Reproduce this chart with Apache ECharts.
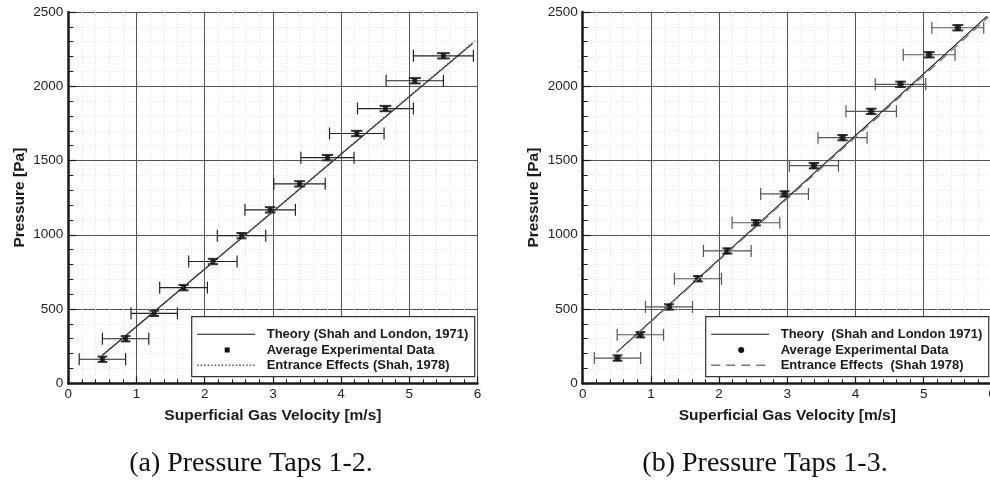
<!DOCTYPE html>
<html>
<head>
<meta charset="utf-8">
<script src="https://cdn.jsdelivr.net/npm/echarts@6/dist/echarts.min.js"></script>
<style>
  html, body { margin: 0; padding: 0; background: #fff; }
  #chart { width: 990px; height: 483px; }
</style>
</head>
<body>
<div id="chart"></div>
<script>
// ---- Panel (a): pressure taps 1-2 ----
const velocityA = [0.50, 0.84, 1.26, 1.69, 2.12, 2.54, 2.96, 3.39, 3.80, 4.23, 4.65, 5.08, 5.50];
const pressureA = [162, 300, 471, 644, 820, 994, 1168, 1343, 1519, 1682, 1850, 2037, 2205];
const velocityErrA = [0.34, 0.34, 0.34, 0.35, 0.355, 0.355, 0.37, 0.377, 0.39, 0.40, 0.41, 0.42, 0.44];
const pressureErrA = [18, 18, 18, 18, 18, 18, 18, 18, 18, 18, 18, 18, 18];
const theoryA = [[0.50, 189], [5.93, 2289]];
const entranceA = [[0.50, 189], [5.96, 2305]];

// ---- Panel (b): pressure taps 1-3 ----
const velocityB = [0.51, 0.845, 1.265, 1.69, 2.12, 2.54, 2.96, 3.39, 3.81, 4.23, 4.66, 5.08, 5.50];
const pressureB = [170, 327, 514, 704, 891, 1081, 1275, 1465, 1654, 1831, 2013, 2212, 2394];
const velocityErrB = [0.34, 0.34, 0.345, 0.345, 0.35, 0.35, 0.35, 0.36, 0.36, 0.37, 0.37, 0.38, 0.38];
const pressureErrB = [18, 18, 18, 18, 18, 18, 18, 18, 18, 18, 18, 18, 18];
const theoryB = [[0.50, 210], [5.93, 2472]];
const entranceB = [[0.50, 207], [5.95, 2466]];

// ---- Text ----
const xTitle = 'Superficial Gas Velocity [m/s]';
const yTitle = 'Pressure [Pa]';
const legendA = ['Theory (Shah and London, 1971)', 'Average Experimental Data', 'Entrance Effects (Shah, 1978)'];
const legendB = ['Theory  (Shah and London 1971)', 'Average Experimental Data', 'Entrance Effects  (Shah 1978)'];
const captions = ['(a) Pressure Taps 1-2.', '(b) Pressure Taps 1-3.'];

const SANS = 'Liberation Sans, Arial, Helvetica, sans-serif';
const SERIF = 'Liberation Serif, DejaVu Serif, serif';

function pack(xs, ys, ex, ey) {
  return xs.map((x, i) => [x, ys[i], ex[i], ey[i]]);
}

const plainNumber = v => String(v);

function xAxisFor(gridIndex) {
  return {
    type: 'value', gridIndex, min: 0, max: 6, interval: 1,
    name: xTitle, nameLocation: 'middle', nameGap: 24,
    nameTextStyle: { fontFamily: SANS, fontWeight: 'bold', fontSize: 15.5, color: '#1a1a1a' },
    axisLine: { show: true, onZero: false, lineStyle: { color: '#1a1a1a', width: 2.5 } },
    axisTick: { show: true, inside: true, length: 7, lineStyle: { color: '#1a1a1a', width: 1.2 } },
    minorTick: { show: true, splitNumber: 5, length: 4, lineStyle: { color: '#1a1a1a', width: 1 } },
    axisLabel: { margin: 4, fontFamily: SANS, fontSize: 13.5, color: '#222', formatter: plainNumber },
    splitLine: { show: true, lineStyle: { color: '#555', width: 1 } },
    minorSplitLine: { show: true, lineStyle: { color: '#e4e4e4', type: [1, 2], width: 1 } }
  };
}

function yAxisFor(gridIndex) {
  return {
    type: 'value', gridIndex, min: 0, max: 2500, interval: 500,
    name: yTitle, nameLocation: 'middle', nameGap: 41,
    nameTextStyle: { fontFamily: SANS, fontWeight: 'bold', fontSize: 15.5, color: '#1a1a1a' },
    axisLine: { show: true, onZero: false, lineStyle: { color: '#1a1a1a', width: 2.5 } },
    axisTick: { show: true, inside: true, length: 8, lineStyle: { color: '#1a1a1a', width: 1.2 } },
    minorTick: { show: true, splitNumber: 5, length: 5, lineStyle: { color: '#1a1a1a', width: 1 } },
    axisLabel: { margin: 5, fontFamily: SANS, fontSize: 13.5, color: '#222', formatter: plainNumber },
    splitLine: { show: true, lineStyle: { color: '#555', width: 1 } },
    minorSplitLine: { show: true, lineStyle: { color: '#e4e4e4', type: [1, 2], width: 1 } }
  };
}

// Horizontal and vertical error bars with end caps, placed through the axis scales.
function errorBars(barColor, capColor) {
  return function (params, api) {
    const x = api.value(0), y = api.value(1), ex = api.value(2), ey = api.value(3);
    const c = api.coord([x, y]);
    const l = api.coord([x - ex, y]);
    const r = api.coord([x + ex, y]);
    const t = api.coord([x, y + ey]);
    const b = api.coord([x, y - ey]);
    const capH = 6;
    const capW = (r[0] - l[0]) / 2 * 0.21;
    const s1 = { stroke: barColor, lineWidth: 1.2 };
    const s2 = { stroke: capColor, lineWidth: 2 };
    return {
      type: 'group',
      children: [
        { type: 'line', shape: { x1: l[0], y1: c[1], x2: r[0], y2: c[1] }, style: s1 },
        { type: 'line', shape: { x1: l[0], y1: c[1] - capH, x2: l[0], y2: c[1] + capH }, style: s1 },
        { type: 'line', shape: { x1: r[0], y1: c[1] - capH, x2: r[0], y2: c[1] + capH }, style: s1 },
        { type: 'line', shape: { x1: c[0], y1: t[1], x2: c[0], y2: b[1] }, style: s2 },
        { type: 'line', shape: { x1: c[0] - capW, y1: t[1], x2: c[0] + capW, y2: t[1] }, style: s2 },
        { type: 'line', shape: { x1: c[0] - capW, y1: b[1], x2: c[0] + capW, y2: b[1] }, style: s2 }
      ]
    };
  };
}

function panelSeries(idx, xs, ys, ex, ey, theory, entrance, symbol, symbolSize, barColor, entranceStyle) {
  return [
    {
      type: 'custom', xAxisIndex: idx, yAxisIndex: idx, silent: true, z: 2,
      renderItem: errorBars(barColor, '#333'),
      data: pack(xs, ys, ex, ey)
    },
    {
      type: 'scatter', xAxisIndex: idx, yAxisIndex: idx, z: 3,
      symbol, symbolSize, itemStyle: { color: '#111' },
      data: xs.map((x, i) => [x, ys[i]])
    },
    {
      type: 'line', xAxisIndex: idx, yAxisIndex: idx, z: 4, showSymbol: false, symbol: 'none',
      lineStyle: { color: '#111', width: 1.1 }, data: theory
    },
    {
      type: 'line', xAxisIndex: idx, yAxisIndex: idx, z: 4, showSymbol: false, symbol: 'none',
      lineStyle: entranceStyle, data: entrance
    }
  ];
}

// Legend panel drawn as a boxed key inside each plot.
function legendBox(left, top, labels, markerShape, entranceStyle) {
  const w = 283, h = 60;
  const rows = [top + 17.6, top + 33.3, top + 48.6];
  const lx1 = left + 5.5, lx2 = left + 63.5, tx = left + 75;
  const mx = left + 35.5;
  const els = [
    { type: 'rect', shape: { x: left, y: top, width: w, height: h }, style: { fill: '#fff', stroke: '#333', lineWidth: 1.2 }, z: 10 },
    { type: 'line', shape: { x1: lx1, y1: rows[0], x2: lx2, y2: rows[0] }, style: { stroke: '#111', lineWidth: 1.1 }, z: 11 },
    { type: 'line', shape: { x1: lx1, y1: rows[2], x2: lx2, y2: rows[2] }, style: entranceStyle, z: 11 }
  ];
  if (markerShape === 'rect') {
    els.push({ type: 'rect', shape: { x: mx - 2.5, y: rows[1] - 2.5, width: 5, height: 5 }, style: { fill: '#111' }, z: 11 });
  } else {
    els.push({ type: 'circle', shape: { cx: mx, cy: rows[1], r: 3 }, style: { fill: '#111' }, z: 11 });
  }
  labels.forEach((t, i) => {
    els.push({
      type: 'text', x: tx, y: rows[i], z: 11,
      style: { text: t, fill: '#1a1a1a', font: 'bold 13px ' + SANS, textAlign: 'left', textVerticalAlign: 'middle' }
    });
  });
  return els;
}

const dottedA = { color: '#555', width: 1.4, type: [1.5, 2] };
const dashedB = { color: '#777', width: 1.4, type: [9, 6] };

const chart = echarts.init(document.getElementById('chart'), null, { renderer: 'canvas' });
chart.setOption({
  animation: false,
  backgroundColor: '#fff',
  grid: [
    { left: 68.3, top: 12, width: 409.2, height: 371.3, outerBoundsMode: 'none', containLabel: false },
    { left: 582.7, top: 12, width: 409.2, height: 371.3, outerBoundsMode: 'none', containLabel: false }
  ],
  xAxis: [xAxisFor(0), xAxisFor(1)],
  yAxis: [yAxisFor(0), yAxisFor(1)],
  series: [
    ...panelSeries(0, velocityA, pressureA, velocityErrA, pressureErrA, theoryA, entranceA, 'rect', 5, '#222', dottedA),
    ...panelSeries(1, velocityB, pressureB, velocityErrB, pressureErrB, theoryB, entranceB, 'circle', 6.5, '#555', dashedB)
  ],
  graphic: [
    ...legendBox(191.7, 316.7, legendA, 'rect', { stroke: '#555', lineWidth: 1.4, lineDash: [1.5, 2] }),
    ...legendBox(705.7, 316.7, legendB, 'circle', { stroke: '#777', lineWidth: 1.4, lineDash: [9, 6] }),
    { type: 'text', x: 251, y: 464, style: { text: captions[0], fill: '#111', font: '28px ' + SERIF, textAlign: 'center', textVerticalAlign: 'middle' } },
    { type: 'text', x: 765, y: 464, style: { text: captions[1], fill: '#111', font: '28px ' + SERIF, textAlign: 'center', textVerticalAlign: 'middle' } }
  ]
});
</script>
</body>
</html>
